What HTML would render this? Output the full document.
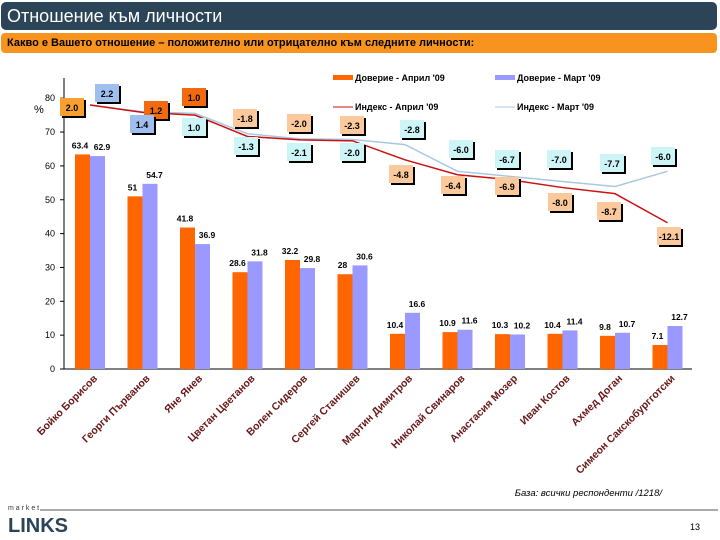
<!DOCTYPE html>
<html><head><meta charset="utf-8">
<style>
body{margin:0;width:720px;height:540px;background:#fff;font-family:"Liberation Sans",sans-serif;overflow:hidden;position:relative}
#hdr{position:absolute;left:1px;top:2px;width:716px;height:28px;background:#2c4457;border-radius:5px;color:#fff;font-size:18px;line-height:28px;padding-left:6px;box-sizing:border-box}
#sub{position:absolute;left:1px;top:33px;width:716px;height:20px;background:#f7931e;border-radius:4px;color:#000;font-size:11px;font-weight:bold;line-height:20px;padding-left:6px;box-sizing:border-box}
svg{position:absolute;left:0;top:0}
</style></head><body>
<div id="hdr">Отношение към личности</div>
<div id="sub">Какво е Вашето отношение – положително или отрицателно към следните личности:</div>
<svg id="c" width="720" height="540"></svg>
<script>
const categories=["Бойко Борисов","Георги Първанов","Яне Янев","Цветан Цветанов","Волен Сидеров","Сергей Станишев","Мартин Димитров","Николай Свинаров","Анастасия Мозер","Иван Костов","Ахмед Доган","Симеон Сакскобургготски"];
const aprilTrust=[63.4,51,41.8,28.6,32.2,28,10.4,10.9,10.3,10.4,9.8,7.1];
const marchTrust=[62.9,54.7,36.9,31.8,29.8,30.6,16.6,11.6,10.2,11.4,10.7,12.7];
const aprilIndex=[2.0,1.2,1.0,-1.8,-2.0,-2.3,-4.8,-6.4,-6.9,-8.0,-8.7,-12.1];
const marchIndex=[2.2,1.4,1.0,-1.3,-2.1,-2.0,-2.8,-6.0,-6.7,-7.0,-7.7,-6.0];
const aprilLine=[78,75.8,75,68.7,67.7,67.4,61.8,57.4,55.9,53.6,51.8,43.2];
const marchLine=[78,76,75.5,69.5,68,67.8,66.3,58.4,56.9,55.4,53.9,58.4];
const yTicks=[0,10,20,30,40,50,60,70,80];
// layout: label box centers (pixels)
const aprBox=[[73,108],[157,111],[195,98],[246,119],[300,124],[353,126],[402,175],[454,186],[508,187],[561,203],[610,212],[670,237]];
const marBox=[[108,94],[143,125],[195,128],[247,147],[300,153],[353,153],[413,130],[462,150],[508,160],[560,160],[613,164],[664,157]];
const svg=document.getElementById('c');const NS='http://www.w3.org/2000/svg';
function y(v){return 369-v*3.385;}
function x(i){return 90+i*52.5;}
function mk(t,a,p){const e=document.createElementNS(NS,t);for(const k in a)e.setAttribute(k,a[k]);(p||svg).appendChild(e);return e;}
function tx(s,a){const e=mk('text',a);e.textContent=s;return e;}
let ax=mk('line',{x1:64,y1:78,x2:64,y2:369,stroke:'#000'});
let bx=mk('line',{x1:64,y1:369,x2:692,y2:369,stroke:'#000'});
yTicks.forEach(v=>{mk('line',{x1:60,y1:y(v),x2:64,y2:y(v),stroke:'#000'});
let t=tx(v,{x:55,y:y(v)+3,'font-size':9,'text-anchor':'end'});});
let pc=tx('%',{x:34,y:113,'font-size':11});
categories.forEach((c,i)=>{
 let b1=mk('rect',{x:x(i)-15,y:y(aprilTrust[i]),width:15,height:369-y(aprilTrust[i]),fill:'#ff6600'});
 
 let b2=mk('rect',{x:x(i),y:y(marchTrust[i]),width:15,height:369-y(marchTrust[i]),fill:'#9999ff'});
 
 let l1=tx(aprilTrust[i],{x:x(i)-10,y:y(aprilTrust[i])-6,'font-size':8.5,'font-weight':'bold','text-anchor':'middle'});
 
 let l2=tx(marchTrust[i],{x:x(i)+12,y:y(marchTrust[i])-6,'font-size':8.5,'font-weight':'bold','text-anchor':'middle'});
 
 let cl=tx(c,{x:0,y:0,'font-size':10.5,'font-weight':'bold',fill:'#6a1818','text-anchor':'end',transform:`translate(${x(i)+8},379) rotate(-45)`});
 
});
let pm=mk('polyline',{points:marchLine.map((v,i)=>x(i)+','+y(v)).join(' '),fill:'none',stroke:'#a9c8e0','stroke-width':1.5});

let pa=mk('polyline',{points:aprilLine.map((v,i)=>x(i)+','+y(v)).join(' '),fill:'none',stroke:'#cc1111','stroke-width':1.5});

function box(cx,cy,val,fill,name){
 const g=mk('g',{});
 mk('rect',{x:cx-11,y:cy-8,width:24,height:18,fill:'#000'},g);
 mk('rect',{x:cx-13,y:cy-10,width:24,height:18,fill:fill},g);
 const t=mk('text',{x:cx-1,y:cy+3,'font-size':9,'font-weight':'bold','text-anchor':'middle'},g);t.textContent=val.toFixed(1);
}
aprilIndex.forEach((v,i)=>box(aprBox[i][0],aprBox[i][1],v,i==0?'#f7a030':(i<3?'#f26a10':'#fbc99c'),'index-label-april'));
marchIndex.forEach((v,i)=>box(marBox[i][0],marBox[i][1],v,i<2?'#9fbfee':'#cdf5f8','index-label-march'));
const lg=mk('g',{});
mk('rect',{x:333,y:75,width:20,height:5,fill:'#ff6600'},lg);
mk('rect',{x:495,y:75,width:20,height:5,fill:'#9999ff'},lg);
mk('line',{x1:333,y1:107,x2:353,y2:107,stroke:'#cc1111'},lg);
mk('line',{x1:495,y1:107,x2:515,y2:107,stroke:'#a9c8e0'},lg);
[["Доверие - Април '09",355,81],["Доверие - Март '09",517,81],["Индекс - Април '09",355,110],["Индекс - Март '09",517,110]].forEach(a=>{const t=mk('text',{x:a[1],y:a[2],'font-size':9,'font-weight':'bold'},lg);t.textContent=a[0];});
let bs=tx('База: всички респонденти /1218/',{x:662,y:496,'font-size':9.5,'font-style':'italic','text-anchor':'end'});
mk('line',{x1:40,y1:510,x2:718,y2:510,stroke:'#555','stroke-width':1});
let lm=tx('m a r k e t',{x:8,y:510,'font-size':7,fill:'#333'});
let ll=tx('LINKS',{x:8,y:532,'font-size':20,'font-weight':'bold',fill:'#2c4457'});
let pn=tx('13',{x:700,y:530,'font-size':9,'text-anchor':'end'});
</script>
</body></html>
